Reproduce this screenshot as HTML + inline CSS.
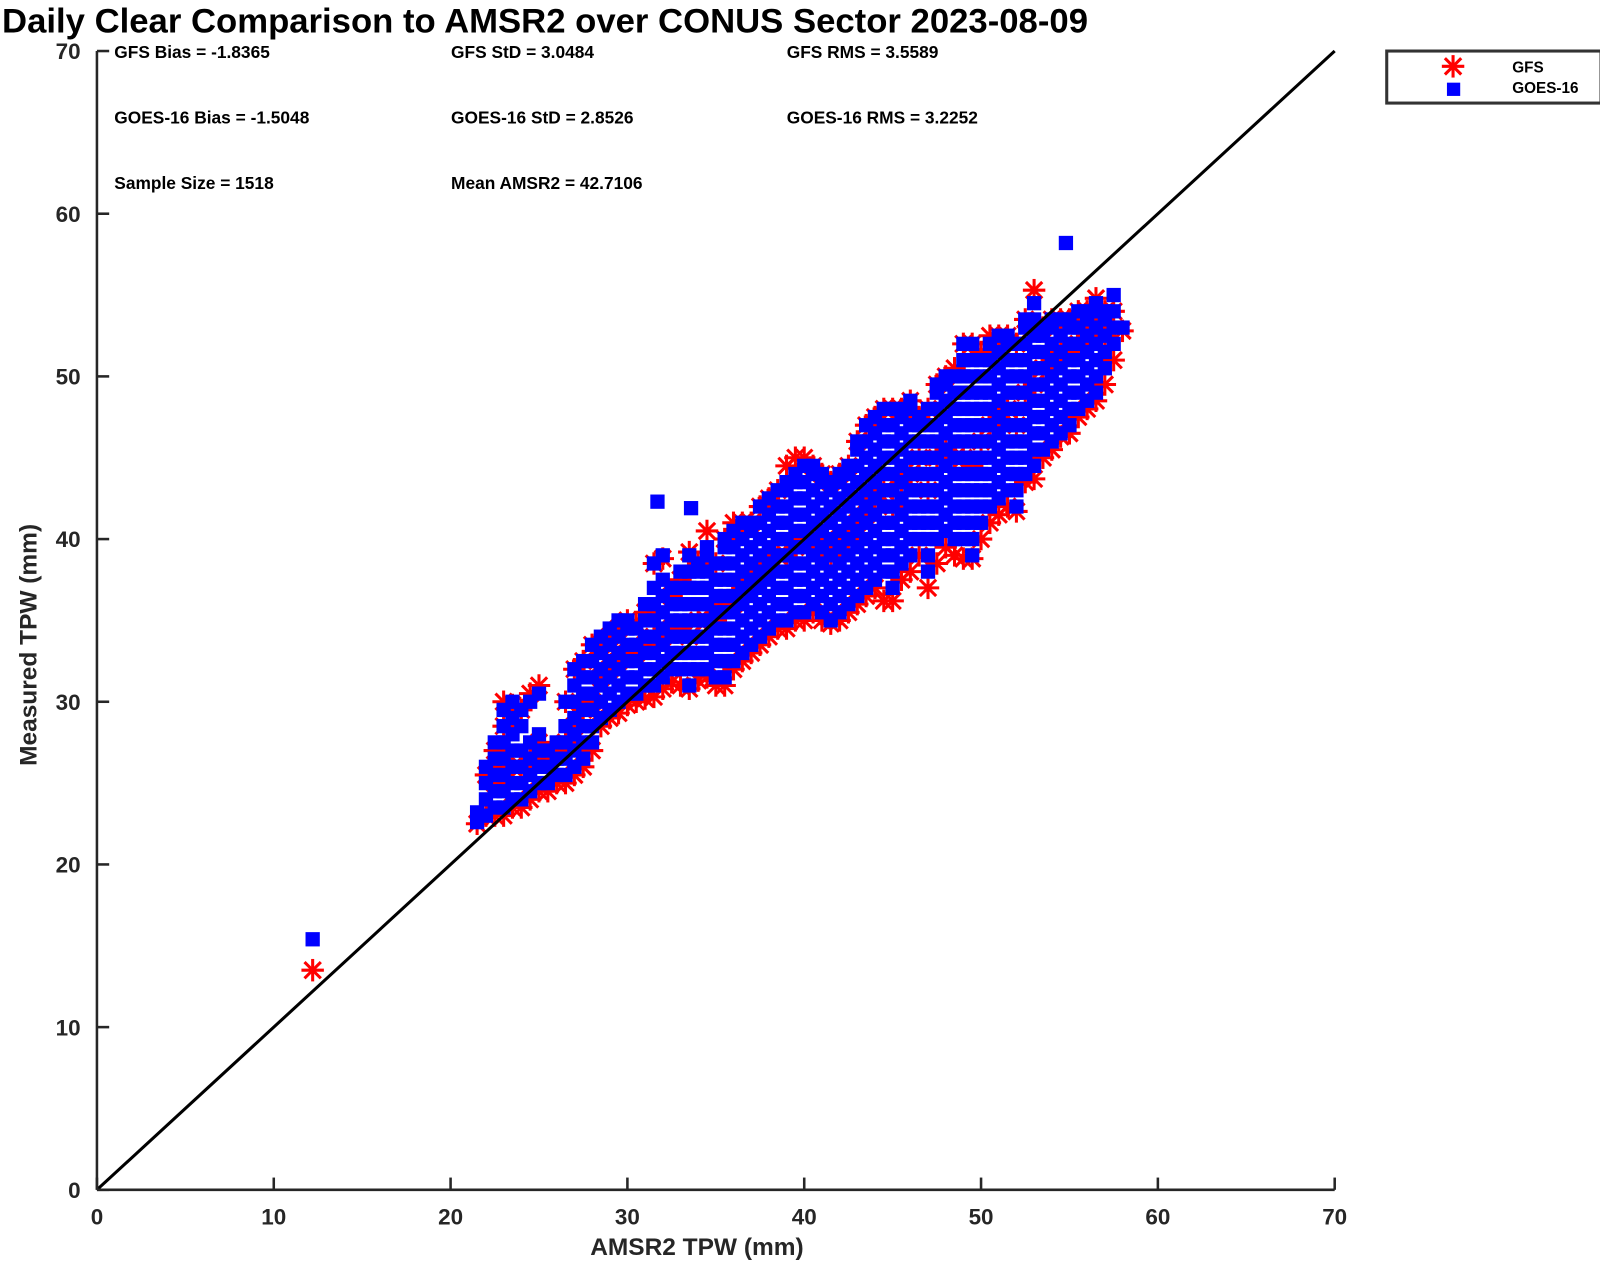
<!DOCTYPE html>
<html><head><meta charset="utf-8">
<style>
html,body{margin:0;padding:0;background:#fff;}
svg text{font-family:"Liberation Sans",Arial,sans-serif;}
</style></head>
<body>
<svg id="chart" width="1600" height="1264" viewBox="0 0 1568 1238.7" xmlns="http://www.w3.org/2000/svg">
<text x="2" y="32" font-size="34" font-weight="bold" fill="#000">Daily Clear Comparison to AMSR2 over CONUS Sector 2023-08-09</text>
<g id="stats" font-size="17" font-weight="bold" fill="#000">
<text x="112" y="57">GFS Bias = -1.8365</text>
<text x="442" y="57">GFS StD = 3.0484</text>
<text x="771" y="57">GFS RMS = 3.5589</text>
<text x="112" y="121">GOES-16 Bias = -1.5048</text>
<text x="442" y="121">GOES-16 StD = 2.8526</text>
<text x="771" y="121">GOES-16 RMS = 3.2252</text>
<text x="112" y="185">Sample Size = 1518</text>
<text x="442" y="185">Mean AMSR2 = 42.7106</text>
</g>
<g id="gfsLayer"></g>
<g id="goesLayer"></g>
<g id="axes"></g>
<g>
<rect x="1359" y="50" width="210" height="51" fill="#fff" stroke="#333" stroke-width="3"/>
<g stroke="#ff0000" stroke-width="3">
<line x1="1424" y1="54" x2="1424" y2="76"/><line x1="1413" y1="65" x2="1435" y2="65"/>
<line x1="1416" y1="57" x2="1432" y2="73"/><line x1="1432" y1="57" x2="1416" y2="73"/></g>
<rect x="1418" y="81" width="13" height="13" fill="#0000ff"/>
<text x="1482" y="71" font-size="15" font-weight="bold">GFS</text>
<text x="1482" y="91" font-size="15" font-weight="bold">GOES-16</text>
</g>
</svg>
<script>
const xTicks = [0,10,20,30,40,50,60,70];
const yTicks = [0,10,20,30,40,50,60,70];
const amsrCols = [21.5,22,22.5,23,23.5,24,24.5,25,25.5,26,26.5,27,27.5,28,28.5,29,29.5,30,30.5,31,31.5,32,32.5,33,33.5,34,34.5,35,35.5,36,36.5,37,37.5,38,38.5,39,39.5,40,40.5,41,41.5,42,42.5,43,43.5,44,44.5,45,45.5,46,46.5,47,47.5,48,48.5,49,49.5,50,50.5,51,51.5,52,52.5,53,53.5,54,54.5,55,55.5,56,56.5,57,57.5,58];
const goesCols = [
[22.6,23.2],
[23,24,25,26],
[23.5,24.5,25.5,26.5,27.5],
[23.5,24.5,25.5,26.5,27.5,28.5,29.5],
[24,25,26,27,28,29,30],
[24,25,26,27,28.5,29.5],
[24.5,25.5,26.5,27.5,30],
[25,26,27,28,30.5],
[25,26,27],
[25.5,26.5,27.5],
[25.5,26.5,27.5,28.5,30],
[26,27,28,29,30,31,32],
[26.5,27.5,28.5,29.5,30.5,31.5,32.5],
[27.5,28.5,29.5,30.5,31.5,32.5,33.5],
[29,30,31,32,33,34],
[29.5,30.5,31.5,32.5,33.5,34.5],
[30,31,32,33,34,35],
[30.5,31.5,32.5,33.5,34.5,35],
[30.5,31.5,32.5,33.5,34.5],
[31,32,33,34,35,36],
[31,32,33,34,35,36,37,38.5],
[31.5,32.5,33.5,34.5,35.5,36.5,37.5,39],
[32,33,34,35,36,37],
[32,33,34,35,36,37,38],
[31,32,33,34,35,36,37,38,39],
[32,33,34,35,36,37,38,38.5],
[32,33,34,35,36,37,38,39,39.5],
[31.5,32.5,33.5,34.5,35.5,36.5,37.5,38.5],
[31.5,32.5,33.5,34.5,35.5,36.5,37.5,38.5,39.5,40],
[32.5,33.5,34.5,35.5,36.5,37.5,38.5,39.5,40.5],
[33,34,35,36,37,38,39,40,41],
[33.5,34.5,35.5,36.5,37.5,38.5,39.5,40.5,41],
[34,35,36,37,38,39,40,41,42],
[34.5,35.5,36.5,37.5,38.5,39.5,40.5,41.5,42.5],
[35,36,37,38,39,40,41,42,43],
[35,36,37,38,39,40,41,42,43,43.5],
[35.5,36.5,37.5,38.5,39.5,40.5,41.5,42.5,43.5,44],
[35.5,36.5,37.5,38.5,39.5,40.5,41.5,42.5,43.5,44.5],
[36,37,38,39,40,41,42,43,44,44.5],
[35.5,36.5,37.5,38.5,39.5,40.5,41.5,42.5,43.5,44],
[35,36,37,38,39,40,41,42,43,43.5],
[35.5,36.5,37.5,38.5,39.5,40.5,41.5,42.5,43.5,44],
[36,37,38,39,40,41,42,43,44,44.5],
[36.5,37.5,38.5,39.5,40.5,41.5,42.5,43.5,44.5,45.5,46],
[37,38,39,40,41,42,43,44,45,46,47],
[37.5,38.5,39.5,40.5,41.5,42.5,43.5,44.5,45.5,46.5,47.5],
[38,39,40,41,42,43,44,45,46,47,48],
[37,38,39,40,41,42,43,44,45,46,47,48],
[38.5,39.5,40.5,41.5,42.5,43.5,44.5,45.5,46.5,47.5,48],
[39,40,41,42,43,44,45,46,47,48,48.5],
[40,41,42,43,44,45,46,47,47.5],
[38,39,40,41,42,43,44,45,46,47,48],
[40,41,42,43,44,45,46,47,48,49,49.5],
[40.5,41.5,42.5,43.5,44.5,45.5,46.5,47.5,48.5,49.5,50],
[40,41,42,43,44,45,46,47,48,49,50],
[40,41,42,43,44,45,46,47,48,49,50,51,52],
[39,40,41,42,43,44,45,46,47,48,49,50,51,52],
[41,42,43,44,45,46,47,48,49,50,51],
[42,43,44,45,46,47,48,49,50,51,52],
[42.5,43.5,44.5,45.5,46.5,47.5,48.5,49.5,50.5,51.5,52.5],
[43,44,45,46,47,48,49,50,51,52,52.5],
[42,43,44,45,46,47,48,49,50,51,52],
[44,45,46,47,48,49,50,51,52,53,53.5],
[44.5,45.5,46.5,47.5,48.5,49.5,50.5,51.5,52.5,53.5,54.5],
[45.5,46.5,47.5,48.5,49.5,50.5,51.5,52.5,53],
[46,47,48,49,50,51,52,53,53.5],
[46.5,47.5,48.5,49.5,50.5,51.5,52.5,53.5],
[47,48,49,50,51,52,53,53.5],
[48,49,50,51,52,53,54],
[48.5,49.5,50.5,51.5,52.5,53.5,54],
[49,50,51,52,53,54,54.5],
[50.5,51.5,52.5,53.5,54],
[52,53,54,55],
[53]];
const gfsCols = [
[22.5],[23,25.5],[23,25,27],[23,26,28.5,30],[23.5,26,29.8],[23.5,26,29.5],[24,26.5,30.5],[24.5,27.5,31],[24.5,26.5],[25,27],[25,27.5,30],[25.5,28.5,32],[26,29.5,32.5],[27,30,33.5],[28.5,31.5,33.5],[29,32,34],[29.3,32.5,34.5],[29.8,33,35],[30,33,34.8],[30.2,33.5,35.5],[30.3,34,38.5],[30.8,34,38.8],[31.2,34.5,36.5],[31,34.5,37.5],[30.8,34,39.2],[31.3,35,38.5],[31.5,35,40.5],[31,35,38.5],[31,36,40],[32,36,41],[32.5,37,41],[33,37.5,41],[33.5,38,42],[34,38.5,42.5],[34.5,39,43],[34.5,39,44.5],[35,39.5,45],[35,40,45],[35.5,40,44.5],[35,39.5,44],[34.8,39,43.5],[35,40,44],[35.5,40,44.5],[36,41,46],[36.5,41.5,47],[37,42.5,47.5],[36.2,43,48],[36.2,42,48],[37.5,43.5,48],[38,44,48.5],[39,45,47.5],[37,43,48],[38.5,45,49.5],[39.5,45.5,50],[39,45,50.5],[38.8,45,52],[38.8,44.5,52],[40,46,51.5],[41,47,52.5],[41.5,47.5,52.5],[42,48,52.5],[41.7,47,52],[43.5,49,53.5],[43.7,49.5,55.3],[45,50.5,53],[45.5,51,53.5],[46.3,51.5,53.5],[46.5,51.5,53.5],[47.5,52,54],[48,52.5,54],[48.5,53,54.8],[49.5,52.5,54],[51,54],[52.8]];
const outX = [12.2, 54.8, 31.7, 33.6];
const outGoes = [15.4, 58.2, 42.3, 41.9];
const outGfsX = [12.2];
const outGfs = [13.5];

const X0=95, X1=1308, Y0=1166, Y1=50;
const xs = v => X0 + v*(X1-X0)/70;
const ys = v => Y0 - v*(Y0-Y1)/70;
const NS='http://www.w3.org/2000/svg';
function mk(tag, attrs, parent){const e=document.createElementNS(NS,tag);for(const k in attrs)e.setAttribute(k,attrs[k]);parent.appendChild(e);return e;}
const gL=document.getElementById('gfsLayer'), bL=document.getElementById('goesLayer'), ax=document.getElementById('axes');
function star(x,y){
  const cx=xs(x), cy=ys(y), r=11, d=8;
  const g=mk('g',{stroke:'#ff0000','stroke-width':3},gL);
  
  
  mk('line',{x1:cx,y1:cy-r,x2:cx,y2:cy+r},g);
  mk('line',{x1:cx-r,y1:cy,x2:cx+r,y2:cy},g);
  mk('line',{x1:cx-d,y1:cy-d,x2:cx+d,y2:cy+d},g);
  mk('line',{x1:cx+d,y1:cy-d,x2:cx-d,y2:cy+d},g);
}
function sq(x,y){
  const r=mk('rect',{x:xs(x)-7,y:ys(y)-7,width:14,height:14,fill:'#0000ff'},bL);
  
  
}
amsrCols.forEach((x,i)=>{ gfsCols[i].forEach(y=>star(x,y)); });
outGfsX.forEach((x,i)=>star(x,outGfs[i]));
amsrCols.forEach((x,i)=>{ goesCols[i].forEach(y=>sq(x,y)); });
outX.forEach((x,i)=>sq(x,outGoes[i]));

const ol=mk('line',{x1:xs(0),y1:ys(0),x2:xs(70),y2:ys(70),stroke:'#000','stroke-width':3},ax);


const xa=mk('line',{x1:X0,y1:Y0,x2:X1,y2:Y0,stroke:'#262626','stroke-width':2.5},ax);


const ya=mk('line',{x1:X0,y1:Y0,x2:X0,y2:Y1,stroke:'#262626','stroke-width':2.5},ax);


xTicks.forEach(t=>{
  mk('line',{x1:xs(t),y1:Y0,x2:xs(t),y2:Y0-12,stroke:'#262626','stroke-width':2.5},ax);
  const tx=mk('text',{x:xs(t),y:Y0+34,'text-anchor':'middle','font-size':22,'font-weight':'bold',fill:'#262626'},ax);
  
  
  tx.textContent=t;
});
yTicks.forEach(t=>{
  mk('line',{x1:X0,y1:ys(t),x2:X0+12,y2:ys(t),stroke:'#262626','stroke-width':2.5},ax);
  const tx=mk('text',{x:X0-16,y:ys(t)+8,'text-anchor':'end','font-size':22,'font-weight':'bold',fill:'#262626'},ax);
  
  
  tx.textContent=t;
});
const xt=mk('text',{x:683,y:1230,'text-anchor':'middle','font-size':24,'font-weight':'bold',fill:'#262626'},ax);


xt.textContent='AMSR2 TPW (mm)';
const yt=mk('text',{x:0,y:0,'text-anchor':'middle','font-size':24,'font-weight':'bold',fill:'#262626',transform:'translate(36,632) rotate(-90)'},ax);


yt.textContent='Measured TPW (mm)';
</script>
</body></html>
